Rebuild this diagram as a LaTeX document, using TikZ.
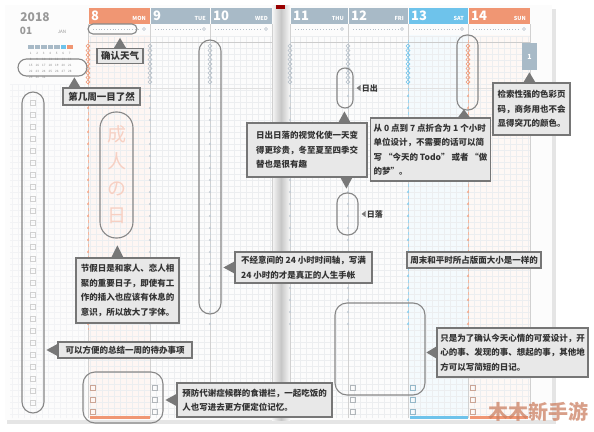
\documentclass[tikz,border=0pt]{standalone}
\usepackage{fontspec}
\setmainfont{Noto Sans CJK SC}
\usepackage{xcolor}
\usepackage{tikz}
\usetikzlibrary{positioning}
\definecolor{monor}{RGB}{240,150,115}
\definecolor{hdgray}{RGB}{168,186,199}
\definecolor{satblue}{RGB}{110,195,235}
\definecolor{notefill}{RGB}{232,232,232}
\definecolor{noteline}{RGB}{118,118,118}
\definecolor{ringline}{RGB}{135,135,135}
\definecolor{tipgray}{RGB}{120,120,120}
\definecolor{gridc}{RGB}{236,238,240}
\definecolor{dotgray}{RGB}{180,190,200}
\definecolor{pinktxt}{RGB}{247,208,195}

\begin{document}
\begin{tikzpicture}[x=1pt,y=-1pt,font=\fontsize{8}{14}\selectfont,
      note/.style={draw=noteline,fill=notefill,line width=1.2pt,inner sep=3pt,align=left,
                   text=black!80,font=\fontsize{8.5}{14.5}\selectfont\bfseries},
      tag/.style={note,font=\fontsize{9.5}{11}\selectfont\bfseries},
      ring/.style={draw=ringline,line width=1.1pt,inner sep=0pt},
      tip/.style={fill=tipgray},
      lbl/.style={inner sep=1pt,text=black!80,font=\fontsize{8}{9}\selectfont\bfseries},
      hd/.style={text=white,inner sep=1pt}]
    \useasboundingbox (0,0) rectangle (594,431);
    % page, spine and shadows
    \fill[white] (0,0) rectangle (594,431);
    \fill[black!10] (7,9) rectangle (556,424);
    \fill[black!1] (5,5) rectangle (552,420);
    \fill[monor!9] (88,35) rectangle (150,418);
    \fill[satblue!8] (408,35) rectangle (468,418);
    \fill[monor!7] (468,35) rectangle (530,418);
    \draw[gridc,line width=0.3pt,step=6pt] (88,36) grid (272,418);
    \draw[gridc,line width=0.3pt,step=6pt] (290,36) grid (530,418);
    \draw[gridc!70,line width=0.3pt,step=6pt] (10,84) grid (86,418);
    \shade[left color=black!3,right color=black!3,middle color=black!22] (272,5) rectangle (290,420);
    \fill[red!60!black] (276,5) rectangle (285,9);
    \foreach \xs in {88,150,210,272,290,348,408,468,530}
      \draw[black!18,line width=0.6pt] (\xs,24) -- (\xs,418);
    \draw[black!20] (88,42) -- (272,42) (290,42) -- (530,42);
    \draw[black!12] (88,88) -- (272,88) (290,88) -- (530,88);
    % day headers
    \foreach \xa/\xb/\hc/\dn/\dd in {88/150/monor/8/MON,150/210/hdgray/9/TUE,210/272/hdgray/10/WED,
        290/348/hdgray/11/THU,348/408/hdgray/12/FRI,408/468/satblue/13/SAT,468/530/monor/14/SUN}{
      \fill[\hc] (\xa+0.5,8) rectangle (\xb-0.5,24);
      \node[hd,anchor=west,font=\fontsize{13}{13}\selectfont\bfseries] (d\dn) at (\xa+2,16) {\dn};
      \node[hd,anchor=east,font=\fontsize{5.5}{6}\selectfont\bfseries] (w\dn) at (\xb-3,18) {\dd};
      \draw[dotgray,dotted,line width=0.8pt] (\xa+5,29) -- (\xb-10,29);
      \draw[dotgray,line width=0.6pt] (\xb-6,29) circle (1.5);
    }
    % time axes
    \foreach \xt/\tc in {88/monor,150/dotgray,210/dotgray,290/dotgray,348/dotgray,408/satblue,468/monor}{
      \draw[\tc!70,dashed,line width=0.5pt] (\xt,40) -- (\xt,330);
      \foreach \yy in {46,50.5,...,86}
        \draw[\tc,line width=0.6pt] (\xt-2,\yy) -- (\xt,\yy-2) -- (\xt+2,\yy) -- (\xt,\yy+2) -- cycle;
      \foreach \yy in {96,108,...,324} \fill[\tc!80] (\xt,\yy) circle (1.1);
      \foreach \yy in {388,400,412} \draw[\tc!70!black!60,line width=0.5pt] (\xt+2,\yy-2.5) rectangle ++(5,5);
    }
    \fill[monor] (90,416) rectangle (150,419);
    \fill[satblue] (410,416) rectangle (468,419);
    \fill[monor] (470,416) rectangle (528,419);
    % month column
    \node[text=black!40,font=\fontsize{12}{12}\selectfont\bfseries] (yr) at (35,17) {2018};
    \node[text=black!40,font=\fontsize{10}{10}\selectfont\bfseries] (mo) at (26,31) {01};
    \node[text=black!40,font=\fontsize{4.5}{5}\selectfont] (mn) at (62,32) {JAN};
    \foreach \i/\cc in {0/hdgray,1/hdgray,2/hdgray,3/hdgray,4/hdgray,5/satblue,6/monor}
      \fill[\cc] (28+\i*6.5,45) rectangle ++(5.5,4);
    \foreach \n in {1,...,31}{
      \pgfmathtruncatemacro\cx{mod(\n-1,7)}
      \pgfmathtruncatemacro\ry{div(\n-1,7)}
      \node[font=\fontsize{3}{3}\selectfont,text=black!45,inner sep=0pt] at (30.75+\cx*6.5,53+\ry*6) {\n};
    }
    \foreach \yy in {100,112,...,404} \draw[black!18,line width=0.5pt] (30,\yy) rectangle ++(5,5);
    % highlight rings
    \node[ring,rounded corners=5pt,minimum width=49pt,minimum height=10pt] (wxRing) at (112.5,29) {};
    \node[ring,rounded corners=8.5pt,minimum width=69pt,minimum height=17pt] (weekRing) at (52.5,67.5) {};
    \node[ring,rounded corners=11pt,minimum width=22pt,minimum height=321pt] (todoRing) at (33,252.5) {};
    \node[ring,rounded corners=16pt,minimum width=33pt,minimum height=126pt,text=pinktxt,align=center,
          font=\fontsize{19}{27}\selectfont] (holRing) at (116.5,175) {成\\人\\の\\日};
    \node[ring,rounded corners=11pt,minimum width=22pt,minimum height=274pt] (tueRing) at (210,177) {};
    \node[ring,rounded corners=8pt,minimum width=16pt,minimum height=40pt] (riseRing) at (345,88) {};
    \node[ring,rounded corners=10pt,minimum width=21pt,minimum height=42pt] (setRing) at (347.5,214) {};
    \node[ring,rounded corners=10pt,minimum width=21pt,minimum height=75pt] (wkendRing) at (467.5,72.5) {};
    \node[ring,rounded corners=12pt,minimum width=90pt,minimum height=92pt] (moodRing) at (380,349) {};
    \node[ring,rounded corners=12pt,minimum width=80pt,minimum height=51pt] (mealRing) at (123,397.5) {};
    \node[fill=hdgray,text=white,minimum width=15pt,minimum height=27pt,inner sep=0pt,
          font=\fontsize{7}{7}\selectfont\bfseries] (tab1) at (529.5,56.5) {1};
    \node[lbl,right=7pt of riseRing] (riseLbl) {日出};
    \node[lbl,right=7pt of setRing] (setLbl) {日落};
    \fill[tip] (riseLbl.west) ++(0,-3) -- ++(0,6) -- ++(-4,-3) -- cycle;
    \fill[tip] (setLbl.west) ++(0,-3) -- ++(0,6) -- ++(-4,-3) -- cycle;
    % notes
    \node[tag,minimum width=46pt,minimum height=14pt] (wxTag) at (120,56) {确认天气};
    \node[tag,minimum width=77pt,minimum height=17pt] (weekTag) at (101.5,96.5) {第几周一目了然};
    \node[note,minimum width=103pt,minimum height=65pt] (holNote) at (127.5,290.5)
      {节假日是和家人、恋人相\\聚的重要日子，即使有工\\作的插入也应该有休息的\\意识，所以放大了字体。};
    \node[note,minimum width=137pt,minimum height=31pt] (axisNote) at (303.5,267.5)
      {不经意间的 24 小时时间轴，写满\\24 小时的才是真正的人生手帐};
    \node[note,minimum width=120pt,minimum height=54pt] (sunNote) at (307,150)
      {日出日落的视觉化使一天变\\得更珍贵，冬至夏至四季交\\替也是很有趣};
    \node[note,minimum width=115pt,minimum height=63pt] (hourNote) at (430.5,149.5)
      {从 0 点到 7 点折合为 1 个小时\\单位设计，不需要的话可以简\\写 “今天的 Todo” 或者 “做\\的梦”。};
    \node[note,minimum width=77pt,minimum height=52pt] (colorNote) at (531.5,109)
      {检索性强的色彩页\\码，商务用也不会\\显得突兀的颜色。};
    \node[note,minimum width=134pt,minimum height=16pt,inner sep=2pt] (sameNote) at (474,260)
      {周末和平时所占版面大小是一样的};
    \node[note,minimum width=151pt,minimum height=49pt] (moodNote) at (512.5,352.5)
      {只是为了确认今天心情的可爱设计，开\\心的事、发现的事、想起的事，其他地\\方可以写简短的日记。};
    \node[note,minimum width=134pt,minimum height=16pt,inner sep=2pt] (todoNote) at (125,350)
      {可以方便的总结一周的待办事项};
    \node[note,minimum width=155pt,minimum height=34pt] (mealNote) at (254.5,400)
      {预防代谢症候群的食谱栏，一起吃饭的\\人也写进去更方便定位记忆。};
    % pointers
    \fill[tip] (wxTag.north) ++(-6,0) -- ++(12,0) -- ++(-6,-10) -- cycle;
    \fill[tip] (weekTag.north west) ++(6,0) -- ++(12,0) -- ++(-6,-10) -- cycle;
    \fill[tip] (holNote.north west) ++(36,0) -- ++(12,0) -- ++(-6,-12) -- cycle;
    \fill[tip] (sunNote.north west) ++(92,0) -- ++(12,0) -- ++(-6,-11) -- cycle;
    \fill[tip] (sunNote.south west) ++(94,0) -- ++(12,0) -- ++(-6,11) -- cycle;
    \fill[tip] (hourNote.north west) ++(88,0) -- ++(12,0) -- ++(-6,-8) -- cycle;
    \fill[tip] (colorNote.north west) ++(31,0) -- ++(12,0) -- ++(-6,-10) -- cycle;
    \fill[tip] (axisNote.west) ++(0,-6) -- ++(0,12) -- ++(-11,-6) -- cycle;
    \fill[tip] (moodNote.west) ++(0,-6) -- ++(0,12) -- ++(-10,-6) -- cycle;
    \fill[tip] (todoNote.west) ++(0,-6) -- ++(0,12) -- ++(-11,-6) -- cycle;
    \fill[tip] (mealNote.west) ++(0,-6) -- ++(0,12) -- ++(-11,-6) -- cycle;
    \node[text=monor!85!black,opacity=0.75,font=\fontsize{20}{20}\selectfont\bfseries] (wmark) at (538,412) {木木新手游};
  \end{tikzpicture}
\end{document}
